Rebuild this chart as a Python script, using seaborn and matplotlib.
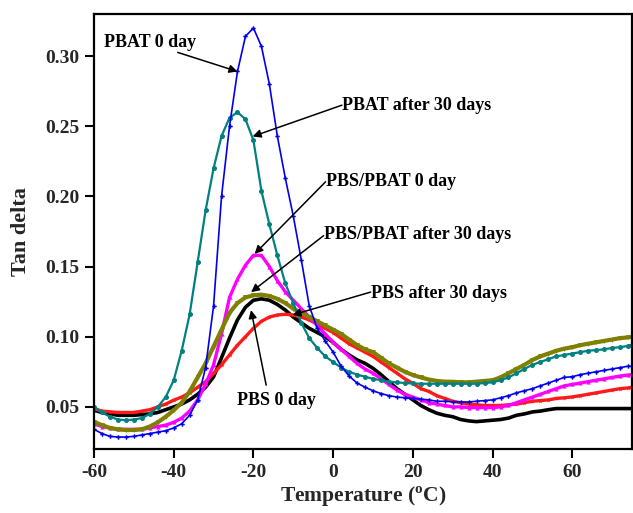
import numpy as np
import pandas as pd
import matplotlib
matplotlib.use("Agg")
import matplotlib.pyplot as plt
import seaborn as sns

# ---------------- data ----------------
temperature = [-60, -58, -56, -54, -52, -50, -48, -46, -44, -42, -40, -38, -36, -34, -32, -30,
               -28, -26, -24, -22, -20, -18, -16, -14, -12, -10, -8, -6, -4, -2, 0,
               2, 4, 6, 8, 10, 12, 14, 16, 18, 20, 22, 24, 26, 28, 30, 32, 34, 36, 38, 40,
               42, 44, 46, 48, 50, 52, 54, 56, 58, 60, 62, 64, 66, 68, 70, 72, 74, 75]

pbat_0 = [0.034, 0.031, 0.029, 0.0285, 0.0285, 0.029, 0.030, 0.031, 0.032, 0.033, 0.035, 0.038, 0.044, 0.055, 0.078, 0.122,
          0.200, 0.250, 0.289, 0.314, 0.320, 0.307, 0.280, 0.243, 0.213, 0.186, 0.155, 0.122, 0.106, 0.097, 0.089,
          0.079, 0.072, 0.067, 0.064, 0.0615, 0.0595, 0.058, 0.057, 0.0565, 0.056, 0.0555, 0.055, 0.054, 0.054, 0.0535, 0.0535, 0.0535, 0.054, 0.0545, 0.055,
          0.0565, 0.058, 0.060, 0.0615, 0.063, 0.065, 0.067, 0.069, 0.071, 0.0715, 0.073, 0.074, 0.075, 0.076, 0.077, 0.078, 0.079, 0.079]

pbat_30 = [0.050, 0.046, 0.043, 0.041, 0.0405, 0.041, 0.042, 0.045, 0.050, 0.057, 0.069, 0.090, 0.116, 0.153, 0.190, 0.220,
           0.243, 0.256, 0.260, 0.255, 0.240, 0.204, 0.180, 0.158, 0.138, 0.124, 0.110, 0.099, 0.092, 0.086, 0.082,
           0.078, 0.075, 0.073, 0.0715, 0.070, 0.069, 0.068, 0.0675, 0.067, 0.0667, 0.0665, 0.0665, 0.0665, 0.0665, 0.0665, 0.0665, 0.0665, 0.0665, 0.067, 0.0675,
           0.069, 0.071, 0.074, 0.077, 0.080, 0.082, 0.084, 0.086, 0.087, 0.088, 0.089, 0.090, 0.0905, 0.091, 0.092, 0.0925, 0.0935, 0.094]

blend_0 = [0.038, 0.036, 0.035, 0.034, 0.034, 0.034, 0.034, 0.035, 0.036, 0.037, 0.039, 0.042, 0.047, 0.055, 0.066, 0.080,
           0.102, 0.128, 0.141, 0.151, 0.158, 0.158, 0.150, 0.140, 0.132, 0.126, 0.120, 0.114, 0.108, 0.102, 0.096,
           0.091, 0.086, 0.081, 0.077, 0.074, 0.070, 0.066, 0.062, 0.059, 0.057, 0.055, 0.053, 0.052, 0.051, 0.050, 0.050, 0.0495, 0.0495, 0.0495, 0.0495,
           0.050, 0.051, 0.053, 0.055, 0.057, 0.059, 0.061, 0.063, 0.065, 0.066, 0.067, 0.068, 0.069, 0.070, 0.071, 0.072, 0.0727, 0.073]

pbs_0 = [0.0476, 0.046, 0.045, 0.044, 0.044, 0.044, 0.0445, 0.045, 0.046, 0.048, 0.050, 0.052, 0.055, 0.059, 0.064, 0.0714,
         0.085, 0.099, 0.112, 0.121, 0.126, 0.127, 0.126, 0.123, 0.119, 0.114, 0.110, 0.106, 0.103, 0.100, 0.096,
         0.091, 0.087, 0.0835, 0.081, 0.0775, 0.073, 0.068, 0.063, 0.059, 0.055, 0.051, 0.048, 0.0455, 0.044, 0.043, 0.041, 0.040, 0.0395, 0.040, 0.0405,
         0.041, 0.042, 0.044, 0.045, 0.0464, 0.047, 0.048, 0.0488, 0.0488, 0.0488, 0.0488, 0.0488, 0.0488, 0.0488, 0.0488, 0.0488, 0.0488, 0.0488]

pbs_30 = [0.0488, 0.047, 0.0465, 0.046, 0.046, 0.046, 0.047, 0.048, 0.050, 0.052, 0.0548, 0.057, 0.060, 0.064, 0.068, 0.0738,
          0.080, 0.087, 0.094, 0.100, 0.106, 0.111, 0.114, 0.1155, 0.116, 0.1155, 0.114, 0.112, 0.109, 0.106, 0.103,
          0.099, 0.095, 0.092, 0.089, 0.086, 0.082, 0.078, 0.074, 0.070, 0.0667, 0.063, 0.061, 0.058, 0.056, 0.054, 0.053, 0.052, 0.0515, 0.051, 0.051,
          0.051, 0.0515, 0.052, 0.053, 0.054, 0.0545, 0.055, 0.056, 0.0565, 0.0571, 0.058, 0.059, 0.060, 0.061, 0.062, 0.063, 0.0635, 0.064]

blend_30 = [0.0393, 0.037, 0.035, 0.034, 0.0335, 0.0335, 0.034, 0.036, 0.039, 0.043, 0.0476, 0.053, 0.061, 0.071, 0.081, 0.093,
            0.105, 0.117, 0.124, 0.128, 0.1295, 0.130, 0.129, 0.127, 0.124, 0.120, 0.117, 0.114, 0.111, 0.108, 0.105,
            0.102, 0.098, 0.094, 0.091, 0.089, 0.085, 0.081, 0.078, 0.075, 0.0727, 0.071, 0.0695, 0.0685, 0.068, 0.0679, 0.0675, 0.0675, 0.068, 0.0685, 0.069,
            0.071, 0.074, 0.077, 0.080, 0.0834, 0.086, 0.088, 0.090, 0.0915, 0.0925, 0.094, 0.095, 0.096, 0.097, 0.098, 0.099, 0.0995, 0.100]

x_ticks = [-60, -40, -20, 0, 20, 40, 60]
y_ticks = [0.05, 0.10, 0.15, 0.20, 0.25, 0.30]

# annotation texts with (text position, arrow tail, arrow head) in data units
ann_labels = ["PBAT 0 day", "PBAT after 30 days", "PBS/PBAT 0 day",
              "PBS/PBAT after 30 days", "PBS after 30 days", "PBS 0 day"]
ann_text_xy = [(-57.5, 0.3098), (2.3, 0.2648), (-1.7, 0.2104),
               (-2.2, 0.1726), (9.6, 0.1310), (-24.0, 0.0548)]
ann_tail_xy = [(-39.0, 0.3026), (2.2, 0.2650), (-1.9, 0.2104),
               (-2.4, 0.1720), (9.4, 0.1318), (-16.8, 0.0655)]
ann_head_xy = [(-24.0, 0.2890), (-20.2, 0.2427), (-19.7, 0.1590),
               (-20.6, 0.1317), (-10.2, 0.1155), (-20.6, 0.1190)]

# ---------------- style ----------------
sns.set_theme(style="ticks")
plt.rcParams['font.family'] = ['Liberation Serif', 'DejaVu Serif']
plt.rcParams['font.weight'] = 'bold'
plt.rcParams['mathtext.fontset'] = 'custom'
plt.rcParams['mathtext.rm'] = 'Liberation Serif:bold'
plt.rcParams['mathtext.bf'] = 'Liberation Serif:bold'

fig = plt.figure(figsize=(6.33, 5.13), dpi=100)
ax = fig.add_axes([0.1485, 0.1248, 0.85, 0.848])

series = [
    (pbs_0, 'black', dict(lw=2.6)),
    (pbs_30, '#ff1a1a', dict(lw=2.4, marker='*', markersize=3.5, markeredgewidth=0)),
    (blend_0, '#ff00ff', dict(lw=2.4, marker='^', markersize=3, markeredgewidth=0)),
    (blend_30, '#808000', dict(lw=3.0, marker='v', markersize=3.5, markeredgewidth=0)),
    (pbat_30, '#008080', dict(lw=1.6, marker='o', markersize=3.6, markeredgewidth=0)),
    (pbat_0, '#0000ee', dict(lw=1.2, marker='P', markersize=3.2, markeredgewidth=0)),
]
for vals, col, kw in series:
    sns.lineplot(x=temperature, y=vals, ax=ax, color=col, estimator=None,
                 sort=False, legend=False, **kw)

for lab, txy, tail, head in zip(ann_labels, ann_text_xy, ann_tail_xy, ann_head_xy):
    ax.text(txy[0], txy[1], lab, fontsize=13, fontweight='bold',
            ha='left', va='center', color='black')
    ax.annotate('', xy=head, xytext=tail,
                arrowprops=dict(arrowstyle='-|>', color='black', lw=1.1,
                                mutation_scale=12, shrinkA=0, shrinkB=0))

ax.set_xlim(-60, 75)
ax.set_ylim(0.02, 0.33)
ax.set_xticks(x_ticks)
ax.set_yticks(y_ticks)
ax.set_xticklabels([str(v) for v in x_ticks], fontsize=14, fontweight='bold')
ax.set_yticklabels([f"{v:.2f}" for v in y_ticks], fontsize=14, fontweight='bold')
ax.tick_params(direction='out', length=6.5, width=1.5, color='black', pad=4)
for s in ax.spines.values():
    s.set_visible(True)
    s.set_linewidth(1.6)
    s.set_color('black')

ax.set_xlabel(r"Temperature ($^{\rm o}$C)", fontsize=15.5, fontweight='bold', labelpad=3)
ax.set_ylabel("Tan delta", fontsize=16, fontweight='bold', labelpad=10)
ax.set_facecolor('white')
fig.patch.set_facecolor('white')

fig.savefig("out.png", dpi=100)
